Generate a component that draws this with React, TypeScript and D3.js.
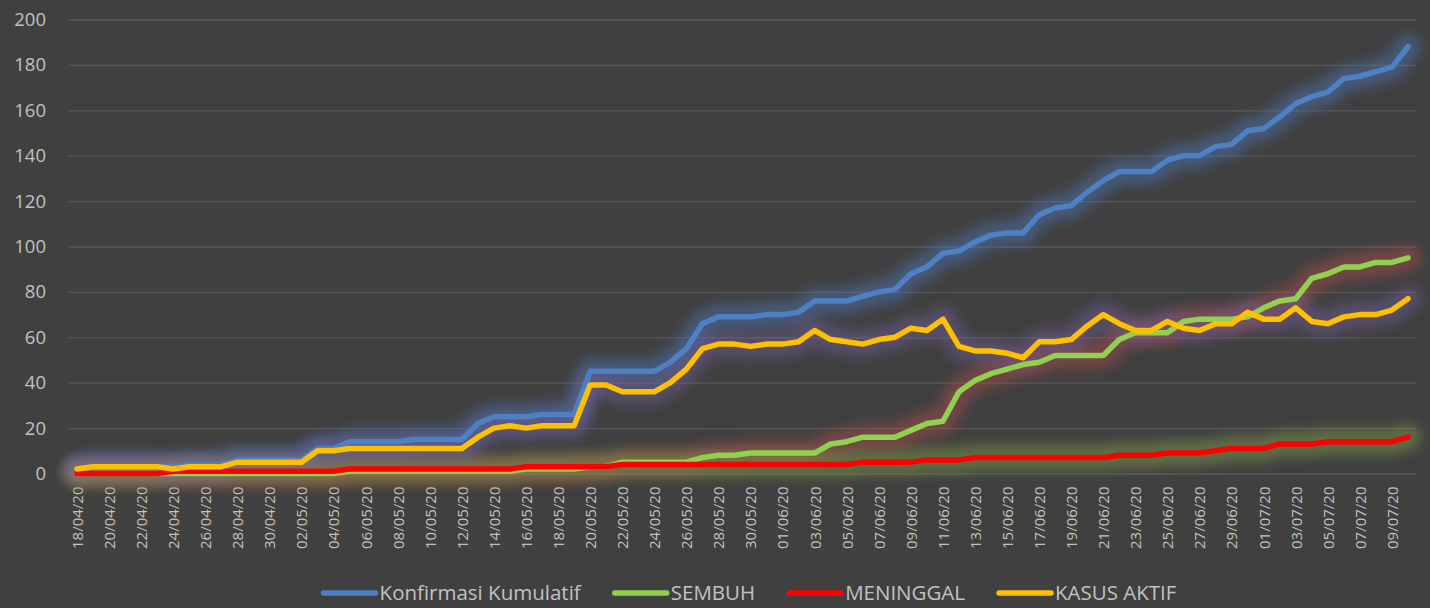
import React, { useEffect, useRef } from "react";
import * as d3 from "d3";

// tanggal harian 18/04/20 - 10/07/20
const tanggal = [
  "18/04/20", "19/04/20", "20/04/20", "21/04/20", "22/04/20", "23/04/20", "24/04/20", "25/04/20", "26/04/20", "27/04/20",
  "28/04/20", "29/04/20", "30/04/20", "01/05/20", "02/05/20", "03/05/20", "04/05/20", "05/05/20", "06/05/20", "07/05/20",
  "08/05/20", "09/05/20", "10/05/20", "11/05/20", "12/05/20", "13/05/20", "14/05/20", "15/05/20", "16/05/20", "17/05/20",
  "18/05/20", "19/05/20", "20/05/20", "21/05/20", "22/05/20", "23/05/20", "24/05/20", "25/05/20", "26/05/20", "27/05/20",
  "28/05/20", "29/05/20", "30/05/20", "31/05/20", "01/06/20", "02/06/20", "03/06/20", "04/06/20", "05/06/20", "06/06/20",
  "07/06/20", "08/06/20", "09/06/20", "10/06/20", "11/06/20", "12/06/20", "13/06/20", "14/06/20", "15/06/20", "16/06/20",
  "17/06/20", "18/06/20", "19/06/20", "20/06/20", "21/06/20", "22/06/20", "23/06/20", "24/06/20", "25/06/20", "26/06/20",
  "27/06/20", "28/06/20", "29/06/20", "30/06/20", "01/07/20", "02/07/20", "03/07/20", "04/07/20", "05/07/20", "06/07/20",
  "07/07/20", "08/07/20", "09/07/20", "10/07/20",
];

const konfirmasi = [
  2, 3, 3, 3, 3, 3, 3, 4, 4, 4,
  6, 6, 6, 6, 6, 11, 11, 14, 14, 14,
  14, 15, 15, 15, 15, 22, 25, 25, 25, 26,
  26, 26, 45, 45, 45, 45, 45, 49, 55, 66,
  69, 69, 69, 70, 70, 71, 76, 76, 76, 78,
  80, 81, 88, 91, 97, 98, 102, 105, 106, 106,
  114, 117, 118, 124, 129, 133, 133, 133, 138, 140,
  140, 144, 145, 151, 152, 157, 163, 166, 168, 174,
  175, 177, 179, 188,
];

const sembuh = [
  0, 0, 0, 0, 0, 0, 0, 0, 0, 0,
  0, 0, 0, 0, 0, 0, 0, 1, 1, 1,
  1, 1, 1, 1, 1, 1, 1, 1, 2, 2,
  2, 2, 3, 3, 5, 5, 5, 5, 5, 7,
  8, 8, 9, 9, 9, 9, 9, 13, 14, 16,
  16, 16, 19, 22, 23, 36, 41, 44, 46, 48,
  49, 52, 52, 52, 52, 59, 62, 62, 62, 67,
  68, 68, 68, 69, 73, 76, 77, 86, 88, 91,
  91, 93, 93, 95,
];

const meninggal = [
  0, 0, 0, 0, 0, 0, 1, 1, 1, 1,
  1, 1, 1, 1, 1, 1, 1, 2, 2, 2,
  2, 2, 2, 2, 2, 2, 2, 2, 3, 3,
  3, 3, 3, 3, 4, 4, 4, 4, 4, 4,
  4, 4, 4, 4, 4, 4, 4, 4, 4, 5,
  5, 5, 5, 6, 6, 6, 7, 7, 7, 7,
  7, 7, 7, 7, 7, 8, 8, 8, 9, 9,
  9, 10, 11, 11, 11, 13, 13, 13, 14, 14,
  14, 14, 14, 16,
];

const kasusAktif = [
  2, 3, 3, 3, 3, 3, 2, 3, 3, 3,
  5, 5, 5, 5, 5, 10, 10, 11, 11, 11,
  11, 11, 11, 11, 11, 16, 20, 21, 20, 21,
  21, 21, 39, 39, 36, 36, 36, 40, 46, 55,
  57, 57, 56, 57, 57, 58, 63, 59, 58, 57,
  59, 60, 64, 63, 68, 56, 54, 54, 53, 51,
  58, 58, 59, 65, 70, 66, 63, 63, 67, 64,
  63, 66, 66, 71, 68, 68, 73, 67, 66, 69,
  70, 70, 72, 77,
];

const yTicks = [0, 20, 40, 60, 80, 100, 120, 140, 160, 180, 200];

const seri = [
  { nama: "Konfirmasi Kumulatif", nilai: konfirmasi, warna: "#4d80c4", glow: "#4f7fc8" },
  { nama: "SEMBUH", nilai: sembuh, warna: "#92d050", glow: "#c0504d" },
  { nama: "MENINGGAL", nilai: meninggal, warna: "#ff0000", glow: "#8fb04a" },
  { nama: "KASUS AKTIF", nilai: kasusAktif, warna: "#ffc000", glow: "#7a62a8" },
];

const W = 1430, H = 608;
const FONT = "'Open Sans', 'Noto Sans', sans-serif";
const TEXT = "#c2c2c2";

export default function App() {
  const svgRef = useRef<SVGSVGElement>(null);

  useEffect(() => {
    document.body.style.margin = "0";
    const svg = d3.select(svgRef.current);
    svg.selectAll("*").remove();

    const left = 69, right = 1416;
    const x = d3.scalePoint<string>().domain(tanggal).range([left, right]).padding(0.5);
    const y = d3.scaleLinear().domain([0, 200]).range([473.5, 19.5]);

    svg.append("rect").attr("width", W).attr("height", H).attr("fill", "#404040");

    const defs = svg.append("defs");
    defs.append("filter")
      .attr("id", "glow")
      .attr("filterUnits", "userSpaceOnUse")
      .attr("x", 0).attr("y", 0).attr("width", W).attr("height", H)
      .append("feGaussianBlur").attr("stdDeviation", 6);

    // grid + y labels
    const yAxis = svg.append("g")
      .attr("transform", `translate(${left},0)`)
      .call(d3.axisLeft(y).tickValues(yTicks).tickSize(-(right - left)).tickPadding(23));
    yAxis.select(".domain").remove();
    yAxis.selectAll("line").attr("stroke", "#575757").attr("stroke-width", 1.3);
    yAxis.selectAll("text")
      .attr("fill", TEXT)
      .style("font-family", FONT)
      .style("font-size", "18.5px");

    // x labels
    const xAxis = svg.append("g")
      .attr("transform", `translate(0,${y(0)})`)
      .call(d3.axisBottom(x).tickValues(tanggal.filter((d, i) => i % 2 === 0)).tickSize(0));
    xAxis.select(".domain").remove();
    xAxis.selectAll("text")
      .attr("y", 0)
      .attr("x", -13)
      .attr("dy", "0.36em")
      .attr("transform", "rotate(-90)")
      .style("text-anchor", "end")
      .attr("fill", TEXT)
      .style("font-family", FONT)
      .style("font-size", "15px");

    const line = d3.line<number>()
      .x((d, i) => x(tanggal[i]) as number)
      .y((d) => y(d));

    // glow
    svg.append("g").selectAll("path.glow")
      .data(seri)
      .enter()
      .append("path")
      .attr("d", (s) => line(s.nilai))
      .attr("fill", "none")
      .attr("stroke", (s) => s.glow)
      .attr("stroke-width", 26)
      .attr("stroke-linejoin", "round")
      .attr("stroke-linecap", "round")
      .attr("opacity", 0.4)
      .attr("filter", "url(#glow)");

    // lines
    svg.append("g").selectAll("path.seri")
      .data(seri)
      .enter()
      .append("path")
      .attr("d", (s) => line(s.nilai))
      .attr("fill", "none")
      .attr("stroke", (s) => s.warna)
      .attr("stroke-width", 5.5)
      .attr("stroke-linejoin", "round")
      .attr("stroke-linecap", "round");

    // legend
    const lg = svg.append("g").attr("transform", "translate(0,593)");
    const items = lg.selectAll("g").data(seri).enter().append("g");
    items.append("line")
      .attr("x1", 2).attr("x2", 54)
      .attr("stroke", (s) => s.warna)
      .attr("stroke-width", 5.5)
      .attr("stroke-linecap", "round");
    items.append("text")
      .attr("x", 58)
      .attr("dy", "0.35em")
      .attr("fill", TEXT)
      .style("font-family", FONT)
      .style("font-size", "20.5px")
      .text((s) => s.nama);
    const widths: number[] = [];
    items.selectAll<SVGTextElement, unknown>("text").each(function () {
      widths.push(58 + this.getComputedTextLength());
    });
    const gap = 32;
    const total = d3.sum(widths) + gap * (widths.length - 1);
    let cx = 749 - total / 2;
    items.attr("transform", (s, i) => {
      const t = `translate(${cx},0)`;
      cx += widths[i] + gap;
      return t;
    });
  }, []);

  return (
    <div>
      <svg ref={svgRef} width={W} height={H} style={{ display: "block" }}></svg>
    </div>
  );
}
